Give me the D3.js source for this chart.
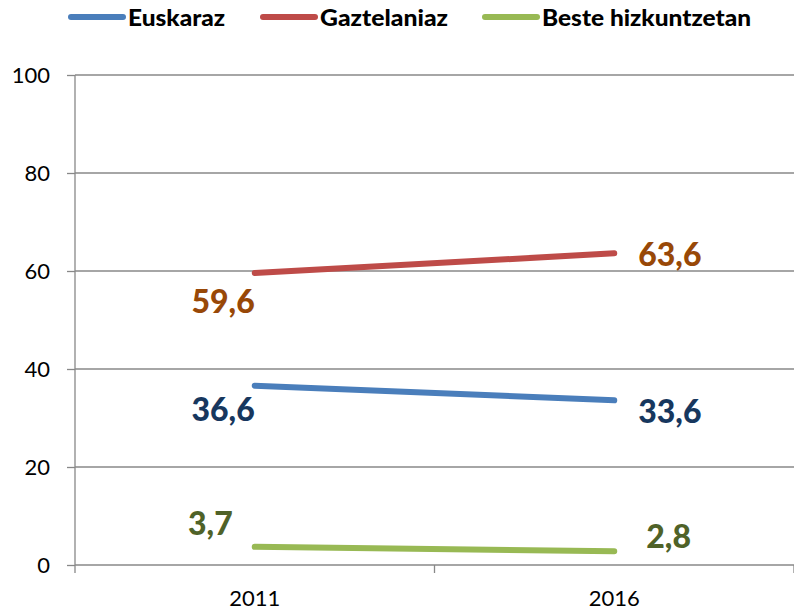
<!DOCTYPE html>
<html><head><meta charset="utf-8">
<script src="https://cdn.jsdelivr.net/npm/d3@7"></script>
<style>body{margin:0;background:#fff}svg{display:block}</style>
</head><body>
<svg id="c" width="794" height="610"></svg>
<script>
const categories = ["2011", "2016"];
const seriesNames = ["Euskaraz", "Gaztelaniaz", "Beste hizkuntzetan"];
const euskaraz = [36.6, 33.6];
const gaztelaniaz = [59.6, 63.6];
const beste = [3.7, 2.8];
const yTicks = [0, 20, 40, 60, 80, 100];
const labelText = [["36,6", "33,6"], ["59,6", "63,6"], ["3,7", "2,8"]];

const lineColors = ["#4A7EBB", "#BE4B48", "#98B954"];
const labelColors = ["#17375E", "#984807", "#4F6228"];
// label offsets [dx, dy, anchor] per series per point (layout)
const labelLayout = [
  [[0, 24, "end"], [24, 11, "start"]],
  [[0, 29, "end"], [24, 1, "start"]],
  [[-22, -23, "end"], [32, -14, "start"]]
];
const legX = [68, 260, 482];
const legW = [97, 128, 209];

const series = [euskaraz, gaztelaniaz, beste];
const svg = d3.select("#c");
const font = "Lato, 'Open Sans', sans-serif";
const x = d3.scaleBand().domain(categories).range([75, 794]);
const y = d3.scaleLinear().domain([0, 100]).range([565, 75]);

// gridlines
svg.append("g").selectAll("line").data(yTicks.filter(d => d > 0)).join("line")
  .attr("x1", 75).attr("x2", 794).attr("y1", d => y(d)).attr("y2", d => y(d))
  .attr("stroke", "#888").attr("stroke-width", 1.3);

const yAxis = svg.append("g").attr("transform", "translate(75,0)")
  .call(d3.axisLeft(y).tickValues(yTicks).tickSize(8).tickPadding(17).tickFormat(d3.format("d")));
yAxis.select(".domain").attr("stroke", "#888").attr("stroke-width", 1.3).attr("d", "M0,565V75");
yAxis.selectAll(".tick line").attr("stroke", "#888").attr("stroke-width", 1.3);
yAxis.selectAll(".tick text").attr("font-family", font).attr("font-size", 22).attr("fill", "#000");

const xAxis = svg.append("g").attr("transform", "translate(0,565)");
xAxis.append("line").attr("x1", 75).attr("x2", 794).attr("stroke", "#888").attr("stroke-width", 1.3);
const bounds = [75, ...categories.map(c => x(c) + x.bandwidth())];
xAxis.selectAll("line.t").data(bounds).join("line").attr("class", "t")
  .attr("x1", d => d).attr("x2", d => d).attr("y1", 0).attr("y2", 8)
  .attr("stroke", "#888").attr("stroke-width", 1.3);
xAxis.selectAll("text").data(categories).join("text")
  .attr("x", d => x(d) + x.bandwidth() / 2).attr("y", 41)
  .attr("text-anchor", "middle").attr("font-family", font).attr("font-size", 22).attr("fill", "#000")
  .text(d => d);

const line = d3.line().x((d, i) => x(categories[i]) + x.bandwidth() / 2).y(d => y(d));
series.forEach((s, k) => {
  svg.append("path").attr("d", line(s)).attr("fill", "none")
    .attr("stroke", lineColors[k]).attr("stroke-width", 6).attr("stroke-linecap", "round");
  s.forEach((v, i) => {
    const L = labelLayout[k][i];
    svg.append("text")
      .attr("x", x(categories[i]) + x.bandwidth() / 2 + L[0])
      .attr("y", y(v) + L[1])
      .attr("dy", "0.35em")
      .attr("text-anchor", L[2])
      .attr("font-family", font).attr("font-weight", 900).attr("font-size", 32)
      .attr("fill", labelColors[k]).text(labelText[k][i]);
  });
});

// legend
const lg = svg.append("g");
seriesNames.forEach((n, k) => {
  lg.append("line").attr("x1", legX[k] + 3).attr("x2", legX[k] + 55).attr("y1", 17).attr("y2", 17)
    .attr("stroke", lineColors[k]).attr("stroke-width", 6).attr("stroke-linecap", "round");
  lg.append("text").attr("x", legX[k] + 60).attr("y", 18).attr("dy", "0.35em")
    .attr("font-family", font).attr("font-weight", 900).attr("font-size", 23)
    .attr("textLength", legW[k]).attr("lengthAdjust", "spacingAndGlyphs")
    .attr("fill", "#000").text(n);
});
</script>
</body></html>
